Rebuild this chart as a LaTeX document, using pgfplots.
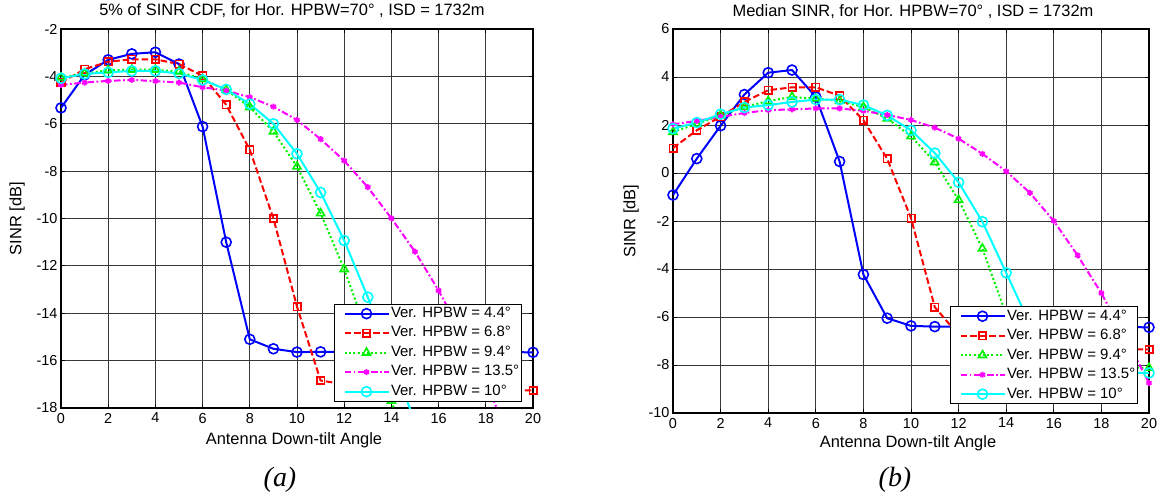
\documentclass[border=0pt]{standalone}
\usepackage{fontspec}
\setmainfont{Liberation Sans}
\newfontfamily\capfont{Liberation Serif}
\usepackage{pgfplots}
\usepackage{pgfplotstable}
\pgfplotsset{compat=1.18}

\definecolor{mblue}{rgb}{0,0,1}
\definecolor{mred}{rgb}{1,0,0}
\definecolor{mgreen}{rgb}{0,0.95,0}
\definecolor{mmag}{rgb}{1,0,1}
\definecolor{mcyan}{rgb}{0,1,1}

% 5% point of the SINR CDF [dB] versus down-tilt angle
\pgfplotstableread{
x   b44     r68     g94     m135    c10
0   -5.33   -4.26   -4.05   -4.36   -4.08
1   -3.94   -3.70   -3.88   -4.26   -3.90
2   -3.30   -3.38   -3.74   -4.19   -3.83
3   -3.05   -3.28   -3.72   -4.15   -3.77
4   -2.98   -3.28   -3.72   -4.20   -3.77
5   -3.48   -3.48   -3.80   -4.26   -3.88
6   -6.12   -3.98   -4.12   -4.46   -4.15
7   -11.00  -5.20   -4.57   -4.60   -4.55
8   -15.10  -7.10   -5.30   -4.88   -5.17
9   -15.50  -10.00  -6.33   -5.28   -6.00
10  -15.64  -13.72  -7.81   -5.84   -7.27
11  -15.63  -16.84  -9.78   -6.65   -8.90
12  -15.63  -17.00  -12.14  -7.56   -10.93
13  -15.63  -17.10  -14.90  -8.68   -13.32
14  -15.63  -17.15  -17.70  -9.99   -15.90
15  -15.63  -17.20  -20.80  -11.40  -18.60
16  -15.63  -17.20  nan     -13.04  nan
17  -15.63  -17.22  nan     -14.90  nan
18  -15.63  -17.24  nan     -16.95  nan
19  -15.64  -17.25  nan     -19.20  nan
20  -15.65  -17.26  nan     nan     nan
}\tabA

% median SINR [dB] versus down-tilt angle
\pgfplotstableread{
x   b44     r68     g94     m135    c10
0   -0.92   1.04    1.71    2.03    1.85
1   0.60    1.78    2.05    2.17    2.10
2   1.97    2.35    2.40    2.34    2.45
3   3.27    2.96    2.75    2.50    2.73
4   4.18    3.45    3.00    2.62    2.83
5   4.29    3.57    3.17    2.65    2.96
6   3.17    3.57    3.10    2.69    3.06
7   0.48    3.22    3.00    2.69    3.06
8   -4.23   2.20    2.75    2.59    2.83
9   -6.05   0.59    2.27    2.42    2.40
10  -6.37   -1.88   1.53    2.21    1.78
11  -6.40   -5.59   0.45    1.89    0.83
12  -6.40   -6.75   -1.12   1.43    -0.39
13  -6.40   -7.10   -3.15   0.80    -2.03
14  -6.40   -7.20   -5.90   0.07    -4.16
15  -6.40   -7.25   -7.50   -0.83   -6.30
16  -6.40   -7.28   -7.95   -2.00   -7.70
17  -6.41   -7.30   -8.05   -3.43   -8.20
18  -6.42   -7.32   -8.10   -5.01   -8.30
19  -6.42   -7.34   -8.10   -6.85   -8.32
20  -6.43   -7.35   -8.12   -8.75   -8.33
}\tabB

\pgfplotsset{
  sinr/.style={
    scale only axis,
    xmin=0, xmax=20,
    xtick={0,2,...,20},
    grid=major,
    major grid style={draw=black!78, line width=0.85bp},
    axis line style={line width=1.2bp},
    tick style={black, line width=0.85bp},
    major tick length=4bp,
    tick align=inside,
    /pgf/number format/assume math mode=true,
    ticklabel style={font=\fontsize{14.5}{16}\selectfont},
    xticklabel style={yshift=-1.5bp},
    label style={font=\fontsize{16.5}{18}\selectfont},
    title style={font=\fontsize{16.5}{18}\selectfont, anchor=base},
    xlabel style={anchor=base},
    ylabel style={anchor=center},
    xlabel={Antenna Down-tilt Angle},
    ylabel={SINR [dB]},
    legend cell align=left,
    legend style={font=\fontsize{15}{17}\selectfont, draw=black, line width=1.1bp,
      fill=white, inner sep=1bp, row sep=2.5bp, anchor=south east,
      nodes={inner sep=1.5bp, text height=10.8bp, text depth=3.2bp}},
    legend image code/.code={
      \path (0bp,0bp);
      \draw[##1, mark indices={2}] plot coordinates {(8bp,0bp) (30bp,0bp) (52bp,0bp)};
    },
  },
  hb44/.style={color=mblue, solid, line width=2bp, mark=o, mark size=5bp,
    mark options={solid, line width=1.6bp}},
  hb68/.style={color=mred, dash pattern=on 6.5bp off 3bp, line width=2bp, mark=square,
    mark size=3.7bp, mark options={solid, line width=1.6bp}},
  hb94/.style={color=mgreen, dash pattern=on 2bp off 2.4bp, line width=2bp,
    mark=triangle, mark size=4.6bp, mark options={solid, line width=1.6bp}},
  hb135/.style={color=mmag, dash pattern=on 6.5bp off 2.5bp on 1.8bp off 2.5bp,
    line width=2bp, mark=asterisk, mark size=3bp, mark options={solid, line width=1.8bp}},
  hb10/.style={color=mcyan, solid, line width=2bp, mark=o, mark size=5bp,
    mark options={solid, line width=1.6bp}},
}

\begin{document}
\begin{tikzpicture}
\useasboundingbox (0,0) rectangle (1164bp,-497bp);

% (a) 5% point of the CDF
\begin{axis}[sinr,
  at={(61bp,-408bp)}, anchor=south west,
  width=472bp, height=379bp,
  ymin=-18, ymax=-2, ytick={-18,-16,...,-2},
  title={5\% of SINR CDF, for Hor. HPBW=70° , ISD = 1732m},
  title style={at={(axis description cs:0.5,1)}, yshift=8bp, xshift=-5bp},
  xlabel style={at={(axis description cs:0.5,-0.095)}, xshift=-3bp},
  ylabel style={at={(axis description cs:-0.093,0.5)}},
  legend style={at={(0.9773,0.0166)}},
]
\addplot[hb44] table[x=x, y=b44] {\tabA};
\addplot[hb68] table[x=x, y=r68] {\tabA};
\addplot[hb94, mark indices={1,2,3,4,5,6,7,8,9,10,11,12,13,14,15}] table[x=x, y=g94] {\tabA};
\addplot[hb135, mark indices={1,2,3,4,5,6,7,8,9,10,11,12,13,14,15,16,17,18,19}] table[x=x, y=m135] {\tabA};
\addplot[hb10, mark indices={1,2,3,4,5,6,7,8,9,10,11,12,13,14,15}] table[x=x, y=c10] {\tabA};
\legend{Ver. HPBW = 4.4°, Ver. HPBW = 6.8°, Ver. HPBW = 9.4°, Ver. HPBW = 13.5°, Ver. HPBW = 10°}
\end{axis}

% (b) median
\begin{axis}[sinr,
  at={(673bp,-413bp)}, anchor=south west,
  width=476bp, height=384bp,
  ymin=-10, ymax=6, ytick={-10,-8,...,6},
  title={Median SINR, for Hor. HPBW=70° , ISD = 1732m},
  title style={at={(axis description cs:0.5,1)}, yshift=7bp, xshift=2bp},
  xlabel style={at={(axis description cs:0.5,-0.091)}, xshift=-3bp},
  ylabel style={at={(axis description cs:-0.088,0.5)}},
  legend style={at={(0.9775,0.0227)}},
]
\addplot[hb44] table[x=x, y=b44] {\tabB};
\addplot[hb68] table[x=x, y=r68] {\tabB};
\addplot[hb94] table[x=x, y=g94] {\tabB};
\addplot[hb135] table[x=x, y=m135] {\tabB};
\addplot[hb10] table[x=x, y=c10] {\tabB};
\legend{Ver. HPBW = 4.4°, Ver. HPBW = 6.8°, Ver. HPBW = 9.4°, Ver. HPBW = 13.5°, Ver. HPBW = 10°}
\end{axis}

\node[font=\capfont\itshape\fontsize{28}{30}\selectfont] at (280bp,-480bp) {(a)};
\node[font=\capfont\itshape\fontsize{28}{30}\selectfont] at (895bp,-480bp) {(b)};
\end{tikzpicture}
\end{document}
